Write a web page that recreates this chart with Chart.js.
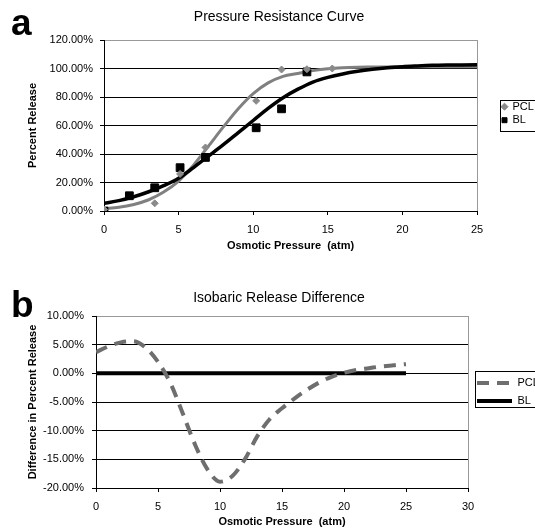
<!DOCTYPE html>
<html>
<head>
<meta charset="utf-8">
<script src="https://cdn.jsdelivr.net/npm/chart.js@4.4.1/dist/chart.umd.min.js"></script>
<style>
  body { margin: 0; background: #fff; }
  #wrap { position: relative; width: 535px; height: 531px; overflow: hidden; }
  canvas { position: absolute; left: 0; }
  .panel { position: absolute; left: 11px; font: bold 37px "Liberation Sans", Arial, sans-serif; line-height: 37px; }
</style>
</head>
<body>
<div id="wrap">
  <canvas id="chartA" width="535" height="265" style="top:0"></canvas>
  <canvas id="chartB" width="535" height="263" style="top:268px"></canvas>
  <div class="panel" style="top:4px">a</div>
  <div class="panel" style="top:286px">b</div>
</div>
<script>
// panel a - measured release points
var pclPointX = [0, 3.4, 5.1, 6.8, 10.2, 11.9, 13.6, 15.3];
var pclPointY = [1, 5.4, 26, 44.6, 77.3, 99.3, 99.5, 100];
var blPointX = [0, 1.7, 3.4, 5.1, 6.8, 10.2, 11.9, 13.6];
var blPointY = [0, 10.7, 16.3, 30.4, 37.6, 58.4, 71.7, 97.6];

// panel a - fitted curves
var curveX = [0, 1, 2, 3, 4, 5, 6, 7, 8, 9, 10, 11, 12, 13, 14, 15, 16, 17, 18, 19, 20, 21, 22, 23, 24, 25];
var pclCurve = [1.7, 2.6, 4.6, 7.9, 13.3, 21, 32.2, 45.5, 59, 71.8, 82.4, 89.9, 94.5, 96.5, 98.5, 99.9, 100.6, 100.9, 101, 101.1, 101.2, 101.2, 101.3, 101.3, 101.3, 101.3];
var blCurve = [5.4, 7.3, 10, 13.5, 17.8, 23, 30.5, 38.5, 46.5, 55, 63.5, 72, 79.5, 85.5, 90.5, 93.8, 96.2, 98, 99.4, 100.5, 101.3, 101.8, 102.2, 102.4, 102.5, 102.6];

// panel b - isobaric difference
var diffX = [0, 1, 2, 3, 4, 5, 6, 7, 8, 9, 10, 11, 12, 13, 14, 15, 16, 17, 18, 19, 20, 21, 22, 23, 24, 25];
var pclDiff = [3.7, 4.7, 5.4, 5.6, 4.5, 2, -1.7, -7, -12.5, -16.8, -18.9, -17.9, -15, -11, -8, -6.1, -4.4, -2.9, -1.6, -0.6, 0.1, 0.6, 0.9, 1.2, 1.4, 1.6];
var blDiff = [0, 0, 0, 0, 0, 0, 0, 0, 0, 0, 0, 0, 0, 0, 0, 0, 0, 0, 0, 0, 0, 0, 0, 0, 0, 0];

Chart.defaults.font.family = '"Liberation Sans", Arial, sans-serif';
Chart.defaults.font.size = 11;
Chart.defaults.color = '#000';
Chart.defaults.animation = false;

function pts(xs, ys) {
    return xs.map(function (x, i) { return { x: x, y: ys[i] }; });
}

function pct(v) {
    return v.toFixed(2) + '%';
}

// moves title / legend to where Excel put them and frames the legend
var boxPlacer = {
    id: 'boxPlacer',
    afterLayout: function (chart, args, opts) {
        var tb = chart.titleBlock;
        if (tb && opts.titleX != null) {
            var dx = opts.titleX - (tb.left + tb.right) / 2;
            tb.left += dx;
            tb.right += dx;
        }
        var lg = chart.legend, b = opts.legend;
        if (lg && b) {
            lg.left = b.x; lg.top = b.y;
            lg.right = b.x + b.w; lg.bottom = b.y + b.h;
            lg.width = b.w; lg.height = b.h;
        }
    },
    afterDraw: function (chart, args, opts) {
        var f = opts.frame;
        if (!f) return;
        var ctx = chart.ctx;
        ctx.save();
        ctx.strokeStyle = '#000';
        ctx.lineWidth = 1;
        ctx.strokeRect(f.x + 0.5, f.y + 0.5, f.w, f.h);
        ctx.restore();
    }
};

new Chart(document.getElementById('chartA'), {
    type: 'scatter',
    plugins: [boxPlacer],
    data: {
        datasets: [
            { label: 'PCL', data: pts(pclPointX, pclPointY), pointStyle: 'rectRot', pointRadius: 3.5,
              backgroundColor: '#8a8a8a', borderColor: '#8a8a8a', borderWidth: 1, order: 0 },
            { label: 'BL', data: pts(blPointX, blPointY), pointStyle: 'rect', pointRadius: 5.5,
              backgroundColor: '#000', borderColor: '#000', borderWidth: 1, order: 1 },
            { label: 'BL fit', data: pts(curveX, blCurve), showLine: true, pointRadius: 0,
              borderColor: '#000', borderWidth: 3.5, cubicInterpolationMode: 'monotone', order: 2 },
            { label: 'PCL fit', data: pts(curveX, pclCurve), showLine: true, pointRadius: 0,
              borderColor: '#808080', borderWidth: 3, cubicInterpolationMode: 'monotone', order: 3 }
        ]
    },
    options: {
        responsive: false,
        layout: { padding: { left: 0, right: 58, top: 0, bottom: 0 } },
        plugins: {
            title: { display: true, text: 'Pressure Resistance Curve', font: { size: 14, weight: 'normal' },
                     padding: { top: 8.6, bottom: 14.6 } },
            legend: {
                position: 'chartArea', align: 'start',
                labels: {
                    usePointStyle: true, boxWidth: 5, boxHeight: 5, padding: 2.5,
                    filter: function (item) { return item.datasetIndex < 2; }
                }
            },
            tooltip: { enabled: false },
            boxPlacer: {
                titleX: 279,
                legend: { x: 499.5, y: 98.7, w: 60, h: 40 },
                frame: { x: 500, y: 100, w: 60, h: 31 }
            }
        },
        scales: {
            x: {
                type: 'linear', min: 0, max: 25,
                afterFit: function (s) { s.height = 54; },
                ticks: { stepSize: 5, padding: 8, maxRotation: 0 },
                grid: {
                    color: function (c) { return c.tick && c.tick.value === 25 ? '#999' : 'rgba(0,0,0,0)'; },
                    tickColor: '#000', tickLength: 4
                },
                border: { color: '#000' },
                title: { display: true, text: 'Osmotic Pressure  (atm)', font: { size: 11, weight: 'bold' },
                         padding: { top: 0, bottom: 12 } }
            },
            y: {
                min: 0, max: 120,
                afterFit: function (s) { s.width = 104; },
                ticks: { stepSize: 20, padding: 7, callback: pct },
                grid: {
                    color: function (c) { return c.tick && c.tick.value === 120 ? '#999' : '#000'; },
                    tickColor: '#000', tickLength: 4
                },
                border: { color: '#000' },
                title: { display: true, text: 'Percent Release', font: { size: 11, weight: 'bold' },
                         padding: { top: 26.4, bottom: 0 } }
            }
        }
    }
});

new Chart(document.getElementById('chartB'), {
    type: 'scatter',
    plugins: [boxPlacer],
    data: {
        datasets: [
            { label: 'PCL', data: pts(diffX, pclDiff), showLine: true, pointRadius: 0,
              borderColor: '#6e6e6e', borderWidth: 4, borderDash: [12, 8],
              cubicInterpolationMode: 'monotone', order: 0 },
            { label: 'BL', data: pts(diffX, blDiff), showLine: true, pointRadius: 0,
              borderColor: '#000', borderWidth: 4, order: 1 }
        ]
    },
    options: {
        responsive: false,
        layout: { padding: { left: 0, right: 67, top: 0, bottom: 0 } },
        plugins: {
            title: { display: true, text: 'Isobaric Release Difference', font: { size: 14, weight: 'normal' },
                     padding: { top: 22.1, bottom: 9.1 } },
            legend: {
                position: 'chartArea', align: 'start',
                labels: {
                    usePointStyle: true, pointStyle: 'line', pointStyleWidth: 35, padding: 7,
                    generateLabels: function (chart) {
                        return Chart.defaults.plugins.legend.labels.generateLabels(chart).map(function (item) {
                            var ds = chart.data.datasets[item.datasetIndex];
                            item.lineDash = ds.borderDash || [];
                            item.lineWidth = ds.borderWidth;
                            item.strokeStyle = ds.borderColor;
                            return item;
                        });
                    }
                }
            },
            tooltip: { enabled: false },
            boxPlacer: {
                titleX: 279,
                legend: { x: 470, y: 102.5, w: 70, h: 45 },
                frame: { x: 475, y: 103, w: 70, h: 36 }
            }
        },
        scales: {
            x: {
                type: 'linear', min: 0, max: 30,
                afterFit: function (s) { s.height = 43; },
                ticks: { stepSize: 5, padding: 8, maxRotation: 0 },
                grid: {
                    color: function (c) { return c.tick && c.tick.value === 30 ? '#999' : 'rgba(0,0,0,0)'; },
                    tickColor: '#000', tickLength: 4
                },
                border: { color: '#000' },
                title: { display: true, text: 'Osmotic Pressure  (atm)', font: { size: 11, weight: 'bold' },
                         padding: { top: 0, bottom: 2.4 } }
            },
            y: {
                min: -20, max: 10,
                afterFit: function (s) { s.width = 96; },
                ticks: { stepSize: 5, padding: 8, callback: pct },
                grid: {
                    color: function (c) { return c.tick && c.tick.value === 10 ? '#999' : '#000'; },
                    tickColor: '#000', tickLength: 4
                },
                border: { color: '#000' },
                title: { display: true, text: 'Difference in Percent Release', font: { size: 11, weight: 'bold' },
                         padding: { top: 25.9, bottom: 0 } }
            }
        }
    }
});
</script>
</body>
</html>
